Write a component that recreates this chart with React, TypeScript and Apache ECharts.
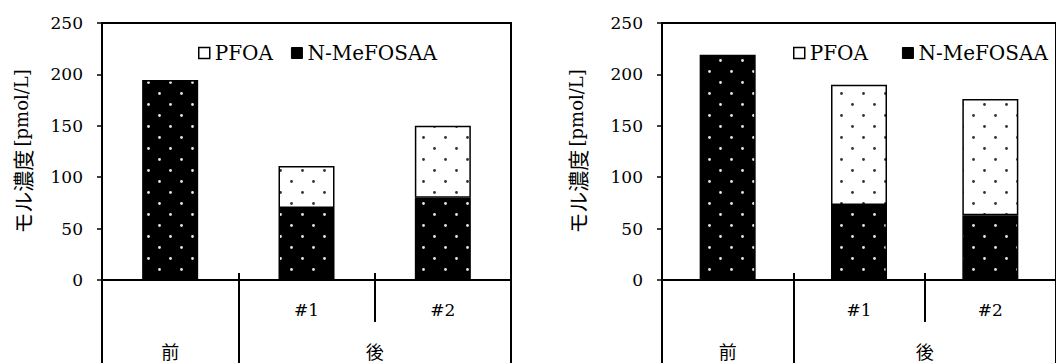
import React, { useEffect, useRef } from 'react';
import * as echarts from 'echarts';

// ---- data ----
const subLabels = ['', '#1', '#2'];
const groupLabels = ['前', '後'];
const groupSpans = [1, 2];
const legendNames = ['PFOA', 'N-MeFOSAA'];
const yAxisTitle = 'モル濃度';
const yAxisUnit = '[pmol/L]';
const yMin = 0;
const yMax = 250;
const yStep = 50;

const leftMeFOSAA = [194.5, 70, 80];
const leftPFOA: (number | null)[] = [null, 41, 70];
const rightMeFOSAA = [219, 73, 63];
const rightPFOA: (number | null)[] = [null, 117, 113];

const SERIF = 'DejaVu Serif';
const CJK = 'Noto Sans CJK JP';

function makePattern(bg: string, dot: string) {
  const c = document.createElement('canvas');
  c.width = 22;
  c.height = 22;
  const ctx = c.getContext('2d')!;
  ctx.fillStyle = bg;
  ctx.fillRect(0, 0, 22, 22);
  ctx.fillStyle = dot;
  ctx.beginPath();
  ctx.arc(5.5, 5.5, 1.4, 0, Math.PI * 2);
  ctx.fill();
  ctx.beginPath();
  ctx.arc(16.5, 16.5, 1.4, 0, Math.PI * 2);
  ctx.fill();
  return { image: c, repeat: 'repeat' } as any;
}

export default function App() {
  const ref = useRef<HTMLDivElement>(null);

  useEffect(() => {
    document.body.style.margin = '0';
    if (!ref.current) return;
    const chart = echarts.init(ref.current, null, { renderer: 'svg' });

    const blackPat = makePattern('#000', '#e6e6e6');
    const whitePat = makePattern('#fff', '#333');

    const n = subLabels.length;
    const bounds: number[] = [0];
    const centres: number[] = [];
    let acc = 0;
    groupSpans.forEach((s) => {
      centres.push(acc + s / 2);
      acc += s;
      bounds.push(acc);
    });
    const inner: number[] = [];
    for (let i = 1; i < n; i++) if (!bounds.includes(i)) inner.push(i);
    const allInner: number[] = [];
    for (let i = 1; i < n; i++) allInner.push(i);

    const panels = [
      { left: 102, nameGap: 70, me: leftMeFOSAA, pf: leftPFOA, legLeft: 193, legGap: 18 },
      { left: 662, nameGap: 75, me: rightMeFOSAA, pf: rightPFOA, legLeft: 788, legGap: 34 },
    ];

    const grids: any[] = [];
    const xAxes: any[] = [];
    const yAxes: any[] = [];
    const series: any[] = [];
    const legends: any[] = [];

    panels.forEach((p, g) => {
      grids.push({
        left: p.left,
        top: 23,
        width: 409,
        height: 257,
        show: true,
        borderColor: '#000',
        borderWidth: 2,
        backgroundColor: 'transparent',
      });
      xAxes.push({
        type: 'category',
        gridIndex: g,
        data: subLabels,
        position: 'bottom',
        axisLine: { show: true, onZero: false, lineStyle: { color: '#000', width: 2 } },
        axisTick: { show: false },
        axisLabel: { margin: 21, color: '#000', fontFamily: SERIF, fontSize: 17, interval: 0 },
        splitLine: { show: false },
      });
      xAxes.push({
        type: 'value',
        gridIndex: g,
        min: 0,
        max: n,
        position: 'bottom',
        axisLine: { show: false, onZero: false },
        splitLine: { show: false },
        axisTick: { show: true, customValues: bounds, length: 90, lineStyle: { color: '#000', width: 2 } },
        axisLabel: {
          show: true,
          customValues: centres,
          margin: 61,
          color: '#000',
          fontFamily: CJK,
          fontSize: 18,
          lineHeight: 20,
          formatter: (v: number) => {
            const i = centres.findIndex((c) => Math.abs(c - v) < 1e-6);
            return i >= 0 ? groupLabels[i] : '';
          },
        },
      });
      xAxes.push({
        type: 'value',
        gridIndex: g,
        min: 0,
        max: n,
        position: 'bottom',
        axisLine: { show: false, onZero: false },
        splitLine: { show: false },
        axisTick: { show: true, customValues: inner, length: 42, lineStyle: { color: '#000', width: 2 } },
        axisLabel: { show: false },
      });
      xAxes.push({
        type: 'value',
        gridIndex: g,
        min: 0,
        max: n,
        position: 'bottom',
        axisLine: { show: false, onZero: false },
        splitLine: { show: false },
        axisTick: { show: true, inside: true, customValues: allInner, length: 7, lineStyle: { color: '#000', width: 2 } },
        axisLabel: { show: false },
      });
      yAxes.push({
        type: 'value',
        gridIndex: g,
        min: yMin,
        max: yMax,
        interval: yStep,
        name: `{a|${yAxisTitle}} {b|${yAxisUnit}}`,
        nameLocation: 'middle',
        nameGap: p.nameGap,
        nameRotate: 90,
        nameTextStyle: {
          color: '#000',
          rich: {
            a: { fontFamily: CJK, fontSize: 21, color: '#000' },
            b: { fontFamily: SERIF, fontSize: 18, color: '#000' },
          },
        },
        axisLine: { show: true, onZero: false, lineStyle: { color: '#000', width: 2 } },
        axisTick: { show: true, length: 5, lineStyle: { color: '#000', width: 1.5 } },
        axisLabel: { margin: 19, color: '#000', fontFamily: SERIF, fontSize: 17 },
        splitLine: { show: false },
      });
      series.push({
        type: 'bar',
        name: legendNames[1],
        xAxisIndex: g * 4,
        yAxisIndex: g,
        stack: 'total' + g,
        barWidth: 56,
        data: p.me,
        itemStyle: { color: blackPat, borderColor: '#000', borderWidth: 1.5 },
      });
      series.push({
        type: 'bar',
        name: legendNames[0],
        xAxisIndex: g * 4,
        yAxisIndex: g,
        stack: 'total' + g,
        barWidth: 56,
        data: p.pf,
        itemStyle: { color: whitePat, borderColor: '#000', borderWidth: 1.5 },
      });
      legends.push({
        left: p.legLeft,
        top: 38,
        itemWidth: 11,
        itemHeight: 11,
        itemGap: p.legGap,
        icon: 'rect',
        selectedMode: false,
        textStyle: { fontFamily: SERIF, fontSize: 20, color: '#000' },
        data: [
          { name: legendNames[0], itemStyle: { color: '#fff', borderColor: '#000', borderWidth: 1.5 } },
          { name: legendNames[1], itemStyle: { color: '#000', borderColor: '#000', borderWidth: 1 } },
        ],
      });
    });

    chart.setOption({
      animation: false,
      backgroundColor: '#fff',
      grid: grids,
      xAxis: xAxes,
      yAxis: yAxes,
      legend: legends,
      series,
    });

    return () => chart.dispose();
  }, []);

  return <div ref={ref} style={{ width: 1056, height: 363 }} />;
}
